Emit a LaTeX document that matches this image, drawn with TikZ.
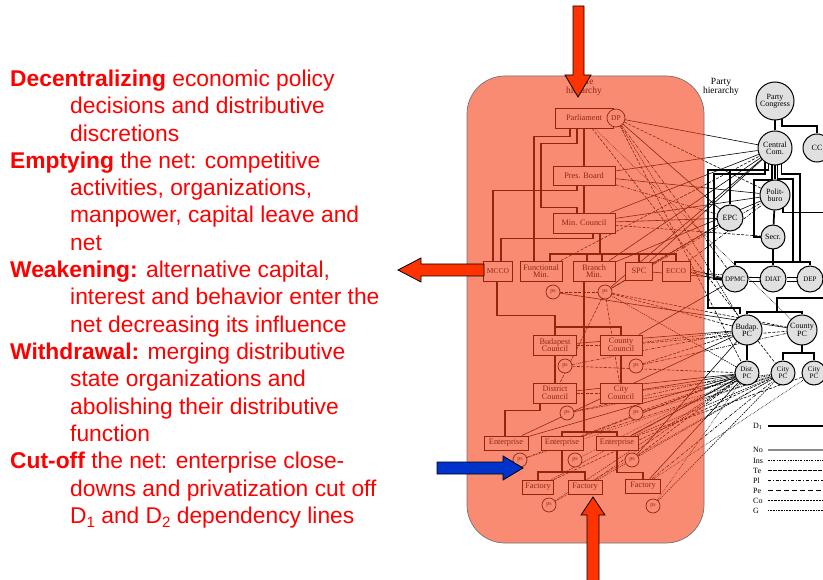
\documentclass[tikz,border=0pt]{standalone}
\usepackage{fontspec}
\setmainfont{Liberation Serif}
\newfontfamily\sansf{Liberation Sans}
\definecolor{ovl}{RGB}{245,63,23}
\definecolor{ared}{RGB}{255,51,0}
\definecolor{ablue}{RGB}{0,51,204}
\pgfdeclarelayer{bg}
\pgfdeclarelayer{fg}
\pgfsetlayers{bg,main,fg}
\begin{document}
\begin{tikzpicture}[x=1pt,y=-1pt,
  txt/.style={font=\sansf\fontsize{22.8}{27}\selectfont, text=red, inner sep=0, anchor=base west},
  sbox/.style={draw, fill=white, line width=0.8pt, inner sep=0, align=center, font=\fontsize{8.3}{7.6}\selectfont},
  pcirc/.style={circle, draw, fill=black!12, line width=1pt, inner sep=0, align=center, font=\fontsize{8}{7.4}\selectfont},
  psc/.style={circle, draw, fill=white, line width=0.7pt, inner sep=0, minimum size=14pt, font=\fontsize{6}{6}\selectfont},
  stree/.style={line width=1.5pt},
  ptree/.style={line width=1.7pt},
  cla/.style={line width=0.6pt},
  clb/.style={line width=0.6pt, dash pattern=on 3pt off 1.5pt},
  clc/.style={line width=0.6pt, dash pattern=on 3pt off 1.2pt on 0.8pt off 1.2pt},
  cld/.style={line width=0.6pt, dash pattern=on 0.6pt off 1pt},
  cle/.style={line width=0.6pt, dash pattern=on 1.5pt off 1pt},
  lbl/.style={inner sep=0, anchor=west, font=\fontsize{8}{8}\selectfont},
  blk/.style={draw=black, line width=0.8pt, line join=miter}
]
\useasboundingbox (0,0) rectangle (823,580);
\clip (0,0) rectangle (823,580);
\begin{pgfonlayer}{bg}
\fill[white] (0,0) rectangle (823,580);
\end{pgfonlayer}

% ---------- left text ----------
\node[txt] (t1) at (10,86.5) {\textbf{Decentralizing} economic policy};
\node[txt] (t2) at (70,113.8) {decisions and distributive};
\node[txt] (t3) at (70,141.1) {discretions};
\node[txt] (t4) at (10,168.4) {\textbf{Emptying} the net: competitive};
\node[txt] (t5) at (70,195.7) {activities, organizations,};
\node[txt] (t6) at (70,223) {manpower, capital leave and};
\node[txt] (t7) at (70,250.3) {net};
\node[txt] (t8) at (10,277.6) {\textbf{Weakening:} alternative capital,};
\node[txt] (t9) at (70,304.9) {interest and behavior enter the};
\node[txt] (t10) at (70,332.2) {net decreasing its influence};
\node[txt] (t11) at (10,359.5) {\textbf{Withdrawal:} merging distributive};
\node[txt] (t12) at (70,386.8) {state organizations and};
\node[txt] (t13) at (70,414.1) {abolishing their distributive};
\node[txt] (t14) at (70,441.4) {function};
\node[txt] (t15) at (10,468.7) {\textbf{Cut-off} the net: enterprise close-};
\node[txt] (t16) at (70,496) {downs and privatization cut off};
\node[txt] (t17) at (70,523.3) {D\raisebox{-4pt}{\fontsize{15}{15}\selectfont 1} and D\raisebox{-4pt}{\fontsize{15}{15}\selectfont 2} dependency lines};

% ---------- titles ----------
\node[align=center, inner sep=0, font=\fontsize{9.5}{9}\selectfont] (stitle) at (584,87) {State\\hierarchy};
\node[align=center, inner sep=0, font=\fontsize{9.5}{9}\selectfont] (ptitle) at (721,87) {Party\\hierarchy};

% ---------- state hierarchy nodes ----------
\node[sbox, minimum width=58pt, minimum height=20pt] (parl) at (584,118) {Parliament};
\node[psc, minimum size=18pt, font=\fontsize{7.5}{7}\selectfont] (dp) at (616,118) {DP};
\node[sbox, minimum width=62pt, minimum height=19pt] (pres) at (584,175.5) {Pres. Board};
\node[sbox, minimum width=62pt, minimum height=20pt] (minc) at (584,223) {Min. Council};
\node[sbox, minimum width=29pt, minimum height=20pt, font=\fontsize{7.5}{7}\selectfont] (mcco) at (498,271) {MCCO};
\node[sbox, minimum width=42pt, minimum height=20pt] (fmin) at (541,271) {Functional\\Min.};
\node[sbox, minimum width=42pt, minimum height=20pt] (bmin) at (594,271) {Branch\\Min.};
\node[sbox, minimum width=27pt, minimum height=18pt] (spc) at (639,271) {SPC};
\node[sbox, minimum width=28pt, minimum height=20pt, font=\fontsize{7.5}{7}\selectfont] (ecco) at (676,271) {ECCO};
\node[psc] (ps1) at (553,292) {ps};
\node[psc] (ps2) at (605,292) {ps};
\node[sbox, minimum width=43pt, minimum height=20pt] (bpc) at (555,345) {Budapest\\Council};
\node[sbox, minimum width=42pt, minimum height=20pt] (coc) at (621,345) {County\\Council};
\node[psc] (ps3) at (565,366) {ps};
\node[psc] (ps4) at (636,366) {ps};
\node[sbox, minimum width=43pt, minimum height=20pt] (dic) at (555,393) {District\\Council};
\node[sbox, minimum width=42pt, minimum height=20pt] (cic) at (621,393) {City\\Council};
\node[psc] (ps5) at (567,413) {ps};
\node[psc] (ps6) at (636,413) {ps};
\node[sbox, minimum width=44pt, minimum height=14pt] (e1) at (506,443) {Enterprise};
\node[sbox, minimum width=42pt, minimum height=14pt] (e2) at (562,443) {Enterprise};
\node[sbox, minimum width=42pt, minimum height=14pt] (e3) at (617,443) {Enterprise};
\node[psc] (ps7) at (520,460) {ps};
\node[psc] (ps8) at (575,460) {ps};
\node[psc] (ps9) at (632,460) {ps};
\node[sbox, minimum width=31pt, minimum height=14pt] (f1) at (538,487) {Factory};
\node[sbox, minimum width=34pt, minimum height=14pt] (f2) at (585,487) {Factory};
\node[sbox, minimum width=35pt, minimum height=14pt] (f3) at (643,486) {Factory};
\node[psc] (ps10) at (549,505) {ps};
\node[psc] (ps11) at (653,506) {ps};

% ---------- party hierarchy nodes ----------
\node[pcirc, minimum size=38pt] (pcong) at (775,101) {Party\\Congress};
\node[pcirc, minimum size=34pt] (ccom) at (775,148) {Central\\Com.};
\node[pcirc, minimum size=28pt] (cc) at (817,148) {CC};
\node[pcirc, minimum size=30pt] (polit) at (775,195) {Polit-\\buro};
\node[pcirc, minimum size=26pt] (epc) at (730,218) {EPC};
\node[pcirc, minimum size=24pt] (secr) at (773,237) {Secr.};
\node[pcirc, minimum size=26pt, font=\fontsize{7}{7}\selectfont] (dpmc) at (735,279) {DPMC};
\node[pcirc, minimum size=26pt, font=\fontsize{7}{7}\selectfont] (diat) at (773,279) {DIAT};
\node[pcirc, minimum size=26pt, font=\fontsize{7}{7}\selectfont] (dep) at (810,279) {DEP};
\node[pcirc, minimum size=30pt] (bppc) at (747,330) {Budap.\\PC};
\node[pcirc, minimum size=30pt] (copc) at (802,330) {County\\PC};
\node[pcirc, minimum size=24pt, font=\fontsize{7}{6.8}\selectfont] (dipc) at (747,373) {Dist.\\PC};
\node[pcirc, minimum size=24pt, font=\fontsize{7}{6.8}\selectfont] (cipc) at (783,373) {City\\PC};
\node[pcirc, minimum size=24pt, font=\fontsize{7}{6.8}\selectfont] (vipc) at (814,373) {City\\PC};

% ---------- legend ----------
\node[lbl] (lD) at (753,426) {D\textsubscript{1}};
\node[lbl] (lNo) at (753,450) {No};
\node[lbl] (lIns) at (753,460.5) {Ins};
\node[lbl] (lTe) at (753,470.5) {Te};
\node[lbl] (lPl) at (753,480.5) {Pl};
\node[lbl] (lPe) at (753,490.5) {Pe};
\node[lbl] (lCo) at (753,500.5) {Co};
\node[lbl] (lG) at (753,510.5) {G};
\coordinate (eD) at (830,426);
\draw[line width=1.5pt] (768,426) -- (eD);
\draw[line width=1.5pt, black!45] (768,450) -- (830,450);
\draw[line width=0.8pt, dash pattern=on 2pt off 1.3pt on 0.8pt off 1.3pt] (768,460.5) -- (830,460.5);
\draw[line width=0.8pt, dash pattern=on 3.5pt off 1.5pt] (768,470.5) -- (830,470.5);
\draw[line width=0.8pt, dash pattern=on 3pt off 1.8pt on 1pt off 1.8pt] (768,480.5) -- (830,480.5);
\draw[line width=0.8pt, dash pattern=on 5pt off 3pt] (768,490.5) -- (830,490.5);
\draw[line width=0.8pt, dash pattern=on 2.2pt off 1pt] (768,500.5) -- (830,500.5);
\draw[line width=0.8pt, dash pattern=on 0.7pt off 0.9pt] (768,510.5) -- (830,510.5);

\begin{pgfonlayer}{bg}
% ---------- state tree ----------
\draw[stree] (parl) -- (minc);
\draw[stree] ([xshift=-14pt]parl.south) -- ++(0,8) -| ([xshift=-7pt]fmin.north);
\draw[stree] ([xshift=-7pt]parl.south) -- ++(0,15) -- ++(-36,0) -- ++(0,64) -| ([xshift=-7pt]minc.north);
\draw[stree] ([xshift=-7pt]pres.south) -- ++(0,5) -| ([xshift=-5pt]mcco.north);
\draw[stree] ([xshift=9pt]minc.south) -- ++(0,5) -| ([xshift=3pt]mcco.north);
\coordinate (mb) at (600,254);
\draw[stree] ([xshift=16pt]minc.south) -- (mb);
\draw[stree] ([xshift=9pt]fmin.north) |- (ecco.north |- mb) -- (ecco.north);
\draw[stree] ([xshift=-7pt]bmin.north) -- ([xshift=-7pt]bmin.north |- mb);
\draw[stree] ([xshift=8pt]bmin.north) -- ([xshift=8pt]bmin.north |- mb);
\draw[stree] (spc.north) -- (spc.north |- mb);
\coordinate (eb) at (584,432);
\draw[stree] ([xshift=-10pt]bmin.south) -- (eb);
\draw[stree] ([xshift=-1pt]mcco.south) -- ++(0,34) -| (bpc.north);
\draw[stree] (bpc.north |- 0,327) -| (coc.north);
\draw[stree] (bpc) -- (dic);
\draw[stree] (coc) -- (cic);
\draw[stree] ([xshift=-15pt]dic.south) -- ++(0,7) -| ([xshift=-1pt]e1.north);
\draw[stree] (e2.north) |- (eb) -| (e3.north);
\draw[stree] (e2.south) -- (e2.south |- 0,472);
\draw[stree] (f1.north) |- (f2.north |- 0,472) -- (f2.north);
\draw[stree] (e3.south) -- ++(0,22) -| (f3.north);

% ---------- party tree ----------
\draw[ptree] (pcong) -- (ccom);
\draw[ptree] (pcong.-70) -- ++(0,7) -| (cc.north);
\draw[ptree] (ccom) -- (polit);
\draw[ptree] (ccom.-112) -- ++(0,6) -| (epc.north);
\draw[ptree] (730,170) -- (708,170) -- (708,308) -| ([xshift=-7pt]bppc.north);
\draw[ptree] (ccom.-125) -- ++(0,12) -| (714,279) -- (dpmc.west);
\draw[ptree] (ccom.-100) -- ++(0,15) -- ++(-18,0) |- (secr.west);
\draw[ptree] (ccom.-68) -- ++(0,10) -| (800,262);
\draw[ptree] (ccom.-82) -- ++(0,14) -| (793,262);
\draw[ptree] (polit) -- (secr);
\draw[ptree] (polit.-60) -- ++(0,4) -- ++(60,0);
\draw[ptree] (secr) -- (diat);
\draw[ptree] (dpmc.north) |- (dep.north |- 0,262) -- (dep.north);
\draw[line width=0.8pt] ([yshift=2pt]dpmc.east) -- ([yshift=2pt]diat.west);
\draw[line width=0.8pt] ([yshift=-2pt]dpmc.east) -- ([yshift=-2pt]diat.west);
\draw[line width=0.8pt] ([yshift=2pt]diat.east) -- ([yshift=2pt]dep.west);
\draw[line width=0.8pt] ([yshift=-2pt]diat.east) -- ([yshift=-2pt]dep.west);
\draw[ptree] (830,298) -- (777,298) -- (777,312);
\draw[ptree] (bppc.north) |- (777,312) -| (copc.north);
\draw[ptree] (bppc) -- (dipc);
\draw[ptree] (copc) -- (copc.south |- 0,353) -| (cipc.north);
\draw[ptree] (copc.south |- 0,353) -| (vipc.north);

% ---------- cross lines ----------
\foreach \a/\b/\s in {
  dp/ccom/cla, dp/polit/clb, dp/epc/cla, dp/dpmc/clc, dp/bppc/cle, dp/dipc/clb,
  parl/copc/cld, parl/cipc/clb, pres/ccom/cla, pres/polit/cla, pres/epc/clc,
  minc/ccom/cla, minc/polit/cla, minc/epc/cla, minc/secr/clb,
  spc/ccom/cla, spc/epc/clb, spc/dpmc/cla, ecco/diat/cle, ecco/polit/clc,
  bmin/ccom/cla, ps2/bppc/clb, ps2/copc/clb, ps2/dipc/cle, ps2/ccom/cla,
  ps2/polit/clc, ps2/epc/cla, ps2/cic/clb, ps2/dic/clb, ps1/ps2/clb, ps1/copc/cla,
  bpc/coc/clb, coc/bppc/cle, coc/copc/clb, coc/dpmc/cla, ps3/bppc/clc, ps4/copc/clc,
  ps4/bppc/clb, dic/cic/clb, cic/dipc/cla, cic/cipc/cle, ps5/dipc/clc, ps6/dipc/clb,
  e1/dipc/cla, e2/dipc/clb, e3/dipc/cla, e3/cipc/cle, ps7/dipc/clc, ps8/dipc/cld,
  ps9/dipc/clb, f1/dipc/cle, f2/dipc/clc, f3/dipc/cla, ps10/cipc/cld, ps11/dipc/cld,
  f3/cipc/clc, e1/bppc/cla, ps6/cipc/cld, e2/cipc/clc, ps9/bppc/cla, f2/cipc/cle,
  ps10/dipc/cle, ps7/cipc/cld, f1/cipc/clb, ps11/cipc/cle, f3/vipc/cld, e3/vipc/clb,
  ps3/dipc/clb, dic/dipc/cla, bpc/bppc/cla, ps5/cipc/cle, fmin/ccom/clb, bmin/polit/cla}
  \draw[\s] (\a) -- (\b);
\draw[cla] ([yshift=1.5pt]ecco.east) -- ([yshift=1.5pt]dpmc.west);
\draw[cla] ([yshift=-1.5pt]ecco.east) -- ([yshift=-1.5pt]dpmc.west);
\end{pgfonlayer}

\begin{pgfonlayer}{fg}
% ---------- overlay ----------
\fill[ovl, fill opacity=0.6, rounded corners=38pt] (467,76) rectangle (704,543);
\draw[black!55, line width=0.7pt, rounded corners=38pt] (467,76) rectangle (704,543);
% ---------- block arrows ----------
\draw[blk, fill=ared] (573,6) -- (584,6) -- (584,75) -- (591,75) -- (578,97) -- (565,75) -- (573,75) -- cycle;
\draw[blk, fill=ared] (484,264) -- (421,264) -- (421,258) -- (398,270) -- (421,282) -- (421,276) -- (484,276) -- cycle;
\draw[blk, fill=ablue] (437,462) -- (503,462) -- (503,456) -- (523,468) -- (503,480) -- (503,474) -- (437,474) -- cycle;
\draw[blk, fill=ared] (587,590) -- (587,515) -- (581,515) -- (593,497) -- (605,515) -- (599,515) -- (599,590) -- cycle;
\end{pgfonlayer}
\end{tikzpicture}
\end{document}
